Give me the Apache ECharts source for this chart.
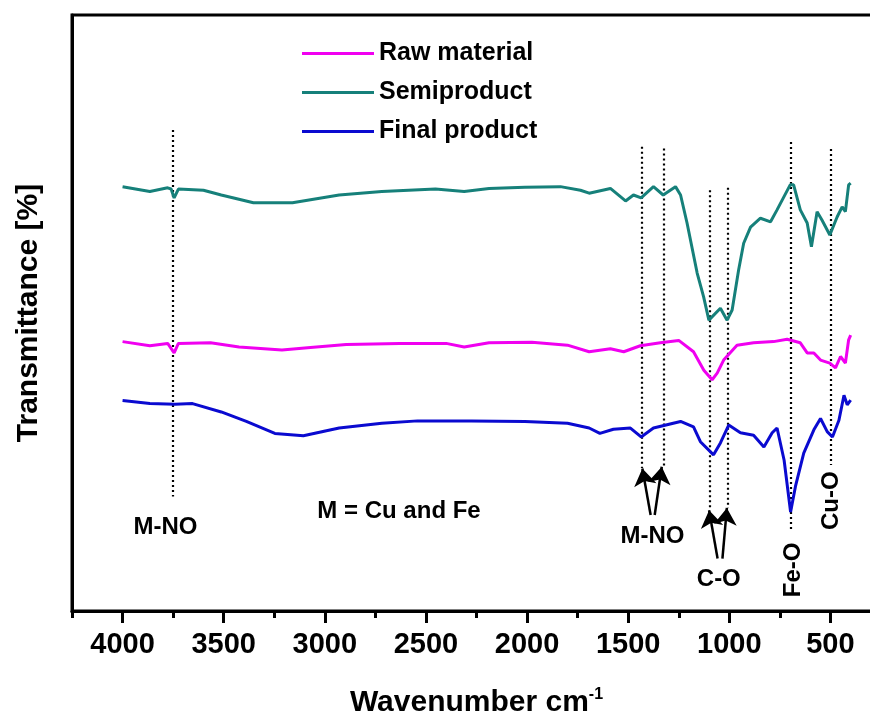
<!DOCTYPE html>
<html><head><meta charset="utf-8">
<script src="https://cdn.jsdelivr.net/npm/echarts@6/dist/echarts.min.js"></script>
<style>html,body{margin:0;padding:0;background:#fff}#c{width:870px;height:716px}</style>
</head><body><div id="c"></div>
<script>
// Raw material spectrum (wavenumber cm-1, transmittance a.u.)
const rawWn = [4000,3865,3777,3745,3724,3565,3424,3212,3071,2894,2629,2400,2311,2188,1976,1800,1693,1588,1522,1440,1341,1250,1177,1126,1085,1060,1028,962,880,781,714,649,615,582,549,503,475,450,426,410,400];
const rawT  = [45.2,44.5,44.9,43.3,44.9,45.0,44.3,43.8,44.2,44.7,44.9,44.9,44.3,45.0,45.1,44.6,43.5,44.0,43.5,44.5,45.0,45.4,43.5,40.4,38.8,39.9,42.1,44.6,45.0,45.2,45.6,45.0,43.3,43.3,42.1,41.6,40.8,42.7,41.6,45.5,46.3];
// Semiproduct spectrum
const semiWn = [4000,3865,3777,3760,3745,3724,3600,3512,3353,3160,2929,2718,2453,2311,2188,2011,1835,1736,1693,1588,1513,1474,1436,1375,1327,1266,1241,1209,1159,1127,1101,1044,1011,986,954,929,895,846,796,764,699,682,649,615,594,566,542,503,467,442,426,410,400];
const semiT  = [71.2,70.4,71.0,70.8,69.3,70.8,70.6,69.8,68.5,68.5,69.8,70.4,70.8,70.4,70.9,71.1,71.2,70.6,70.1,70.9,68.8,69.8,69.3,71.2,69.8,71.2,69.8,65.1,56.7,52.7,48.8,50.8,48.8,50.5,57.2,61.7,64.4,65.9,65.3,67.3,71.5,71.5,67.3,65.1,61.1,67.0,65.6,63.1,66.1,67.8,67.0,71.5,71.8];
// Final product spectrum
const finalWn = [4000,3865,3741,3654,3512,3388,3247,3106,2929,2718,2541,2276,2011,1800,1693,1640,1573,1489,1436,1375,1241,1177,1143,1078,1044,1003,945,880,829,788,764,729,697,673,632,582,549,516,490,458,433,417,400];
const finalT  = [35.3,34.8,34.7,34.8,33.4,31.8,29.8,29.4,30.7,31.5,31.9,31.9,31.8,31.5,30.7,29.8,30.5,30.7,29.2,30.7,31.8,30.9,28.4,26.2,28.2,31.2,29.9,29.5,27.5,29.9,30.7,25.3,16.6,20.9,26.5,30.4,32.3,30.1,29.2,32.0,36.2,34.6,35.4];

const seriesNames = ['Raw material','Semiproduct','Final product'];
const tickValues = [4000,3500,3000,2500,2000,1500,1000,500];
const minorTickValues = [4250,3750,3250,2750,2250,1750,1250,750];

// Peak marker lines (dotted)
const peakWn     = [3754,1435,1326,1097,1009,697,500];
const peakTop    = [80.7,77.9,77.6,70.6,71.0,78.7,77.5];
const peakBottom = [19.2,24.0,24.2,16.9,17.3,13.3,24.5];
// Arrows
const arrowFromWn = [1389,1369,1058,1034];
const arrowFromT  = [16.1,16.1,8.8,8.8];
const arrowToWn   = [1430,1334,1100,1012];
const arrowToT    = [23.9,24.2,16.9,17.3];
// Annotation texts
const noteText   = ['M-NO','M = Cu and Fe','M-NO','C-O','Fe-O','Cu-O'];
const noteWn     = [3788,2633,1380,1052,685,493];
const noteT      = [14.1,16.7,12.5,5.3,6.9,18.5];
const noteRotate = [0,0,0,0,90,90];

const FONT = 'Liberation Sans, Arial, sans-serif';
const colors = ['#f000f0','#16807a','#0a0ad0'];
const zip = (a,b) => a.map((v,i)=>[v,b[i]]);

const chart = echarts.init(document.getElementById('c'), null, {renderer:'canvas'});
chart.setOption({
  animation:false,
  backgroundColor:'#fff',
  grid:{left:72, top:15, right:-11, bottom:105, containLabel:false, outerBoundsMode:'none',
        show:true, borderColor:'#000', borderWidth:3},
  legend:{
    data:seriesNames, orient:'vertical', left:297, top:34,
    icon:'rect', itemWidth:72, itemHeight:3, itemGap:10,
    textStyle:{fontFamily:FONT, fontSize:25, fontWeight:'bold', color:'#000', lineHeight:29}
  },
  xAxis:[{
    type:'value', min:250, max:4250, inverse:true, position:'bottom',
    axisLine:{show:true, lineStyle:{color:'#000', width:3}},
    axisTick:{show:true, customValues:tickValues, length:12, lineStyle:{color:'#000', width:3}},
    axisLabel:{show:true, customValues:tickValues, formatter:v=>String(v), fontFamily:FONT, fontSize:29, fontWeight:'bold', color:'#000', margin:19},
    splitLine:{show:false},
    name:'{a|Wavenumber cm}{s|-1}', nameLocation:'middle', nameGap:76,
    nameTextStyle:{rich:{
      a:{fontFamily:FONT, fontSize:30, fontWeight:'bold', color:'#000'},
      s:{fontFamily:FONT, fontSize:16, fontWeight:'bold', color:'#000', padding:[0,0,16,0]}
    }}
  },{
    type:'value', min:250, max:4250, inverse:true, position:'bottom',
    axisLine:{show:false},
    axisTick:{show:true, customValues:minorTickValues, length:7, lineStyle:{color:'#000', width:3}},
    axisLabel:{show:false}, splitLine:{show:false}
  }],
  yAxis:{
    type:'value', min:0, max:100,
    axisLine:{show:true, lineStyle:{color:'#000', width:3}},
    axisTick:{show:false}, axisLabel:{show:false}, splitLine:{show:false},
    name:'Transmittance [%]', nameLocation:'middle', nameGap:28,
    nameTextStyle:{fontFamily:FONT, fontSize:30, fontWeight:'bold', color:'#000'}
  },
  series:[
    {name:seriesNames[0], type:'line', data:zip(rawWn,rawT), showSymbol:false, symbol:'none', color:colors[0], lineStyle:{width:3, color:colors[0]}},
    {name:seriesNames[1], type:'line', data:zip(semiWn,semiT), showSymbol:false, symbol:'none', color:colors[1], lineStyle:{width:3, color:colors[1]}},
    {name:seriesNames[2], type:'line', data:zip(finalWn,finalT), showSymbol:false, symbol:'none', color:colors[2], lineStyle:{width:3, color:colors[2]}},
    {type:'lines', coordinateSystem:'cartesian2d', silent:true, z:1,
      lineStyle:{color:'#000', width:2.2, type:[2,3], opacity:1},
      data:peakWn.map((w,i)=>({coords:[[w,peakTop[i]],[w,peakBottom[i]]]}))},
    {type:'lines', coordinateSystem:'cartesian2d', silent:true, z:3,
      symbol:['none','arrow'], symbolSize:[11,17],
      lineStyle:{color:'#000', width:2.5, opacity:1},
      data:arrowFromWn.map((w,i)=>({coords:[[w,arrowFromT[i]],[arrowToWn[i],arrowToT[i]]]}))},
    {type:'scatter', silent:true, symbolSize:0, z:4,
      itemStyle:{opacity:1, color:'#000'},
      label:{show:true, position:'inside', formatter:p=>p.name, fontFamily:FONT, fontSize:24, fontWeight:'bold', color:'#000', opacity:1},
      data:noteText.map((t,i)=>({name:t, value:[noteWn[i],noteT[i]], label:{rotate:noteRotate[i], color:'#000'}}))}
  ]
});
</script></body></html>
